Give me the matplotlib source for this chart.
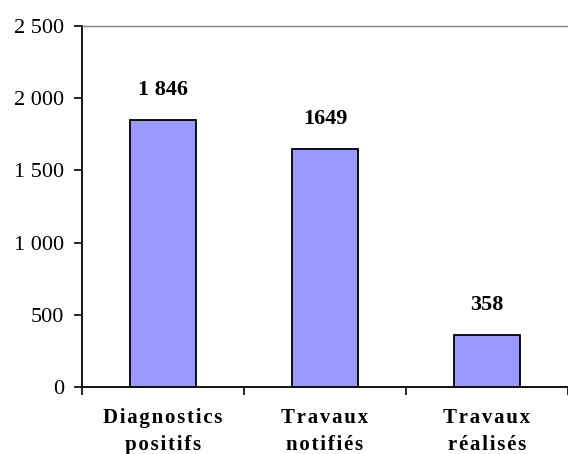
import matplotlib
matplotlib.use("Agg")
import matplotlib.pyplot as plt
from matplotlib.ticker import FuncFormatter

categories = ["Diagnostics\npositifs", "Travaux\nnotifiés", "Travaux\nréalisés"]
values = [1846, 1649, 358]
value_labels = ["1 846", "1649", "358"]
y_ticks = [0, 500, 1000, 1500, 2000, 2500]

plt.rcParams["font.family"] = ["Liberation Serif", "DejaVu Serif"]


def spaced(text, gap="\u200a"):
    """Insert a hair space between letters to widen the tracking."""
    return "\n".join(gap.join(line) for line in text.split("\n"))


fig = plt.figure(figsize=(5.68, 4.54), dpi=100)
W, H = 568, 454
left, right = 82, 568
bottom, top = 454 - 387, 454 - 26
ax = fig.add_axes([left / W, bottom / H, (right - left) / W, (top - bottom) / H])

x = list(range(len(categories)))
ax.bar(x, values, width=0.405, color="#9999FF", edgecolor="black", linewidth=1.3, zorder=3)

cat_px = 165.5
ax.set_xlim(-0.5, -0.5 + (right - left) / cat_px)
ax.set_ylim(0, 2500)

ax.set_yticks(y_ticks)
ax.yaxis.set_major_formatter(FuncFormatter(lambda v, p: f"{int(v):,}".replace(",", " ")))
ax.tick_params(axis="y", direction="out", length=6, width=1.2, labelsize=16, pad=7)

ax.set_xticks([i - 0.5 for i in range(len(categories) + 1)])
ax.set_xticklabels([])
ax.set_xticks(x, minor=True)
ax.set_xticklabels([spaced(c) for c in categories], minor=True, fontsize=15,
                   fontweight="bold", linespacing=1.5)
ax.tick_params(axis="x", which="major", direction="out", length=6, width=1.2)
ax.tick_params(axis="x", which="minor", length=0, pad=15)

for s in ["left", "bottom"]:
    ax.spines[s].set_linewidth(1.3)
    ax.spines[s].set_color("black")
ax.spines["right"].set_visible(False)
ax.spines["top"].set_color("#808080")
ax.spines["top"].set_linewidth(1.0)

for xi, v, lab in zip(x, values, value_labels):
    ax.annotate(lab, (xi, v), xytext=(0, 30), textcoords="offset pixels",
                ha="center", va="center", fontsize=16, fontweight="bold")

fig.savefig("out.png", dpi=100)
